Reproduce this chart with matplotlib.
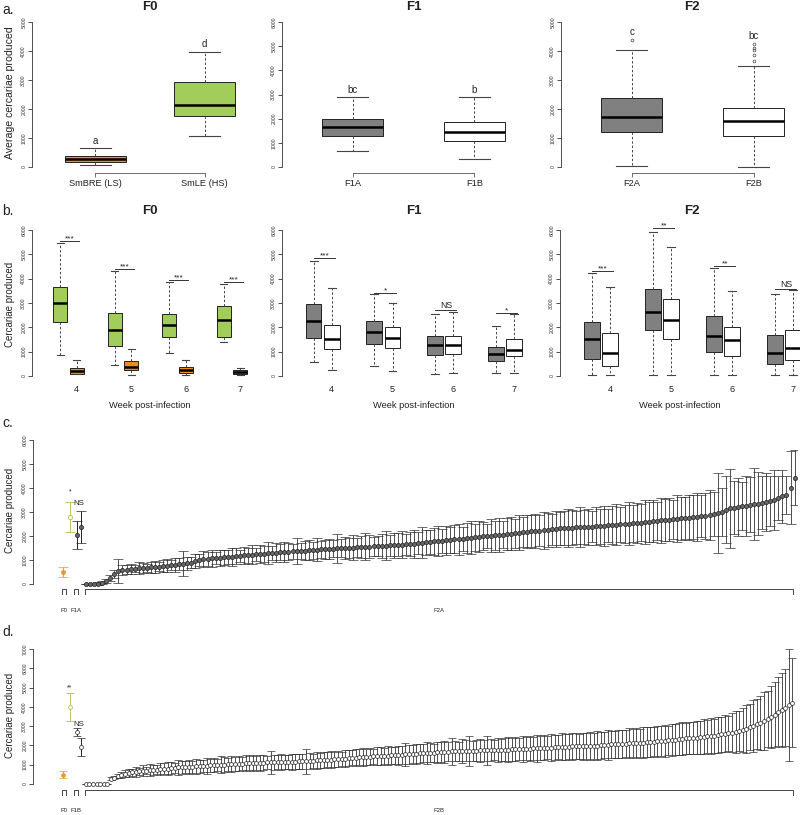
import numpy as np
import matplotlib
matplotlib.use("Agg")
import matplotlib.pyplot as plt
from matplotlib import transforms

plt.rcParams['font.family'] = ['Liberation Sans', 'DejaVu Sans']

# ---------------- data ----------------
# panel a: average cercariae per parasite group (box stats)
a_f0_names = ['SmBRE (LS)', 'SmLE (HS)']
a_f0_lo = [80, 1080]
a_f0_q1 = [170, 1760]
a_f0_med = [270, 2130]
a_f0_q3 = [380, 2920]
a_f0_hi = [650, 3980]
a_f0_letters = ['a', 'd']

a_f1_names = ['F1A', 'F1B']
a_f1_lo = [650, 330]
a_f1_q1 = [1300, 1080]
a_f1_med = [1650, 1450]
a_f1_q3 = [1970, 1870]
a_f1_hi = [2900, 2900]
a_f1_letters = ['bc', 'b']

a_f2_names = ['F2A', 'F2B']
a_f2_lo = [20, 10]
a_f2_q1 = [1190, 1060]
a_f2_med = [1730, 1570]
a_f2_q3 = [2380, 2030]
a_f2_hi = [4020, 3480]
a_f2_out = [[4380], [3650, 3850, 4050, 4120, 4250]]
a_f2_letters = ['c', 'bc']

# panel b: per week
weeks = [4, 5, 6, 7]
b_f0_hs = dict(lo=[850, 440, 960, 1390], q1=[2230, 1240, 1600, 1620], med=[3020, 1900, 2100, 2300],
               q3=[3670, 2600, 2550, 2880], hi=[5450, 4310, 3880, 3770])
b_f0_ls = dict(lo=[70, 55, 40, 50], q1=[100, 260, 130, 100], med=[200, 370, 250, 170],
               q3=[340, 630, 380, 230], hi=[650, 1110, 650, 330])
b_f0_sig = ['***', '***', '***', '***']
b_f0_sig_y = [5560, 4380, 3950, 3870]

b_f1_a = dict(lo=[577, 430, 100, 120], q1=[1550, 1330, 870, 600], med=[2260, 1810, 1290, 890],
              q3=[2940, 2240, 1650, 1200], hi=[4740, 3350, 2540, 2070])
b_f1_b = dict(lo=[260, 190, 120, 120], q1=[1100, 1170, 920, 810], med=[1540, 1570, 1290, 1070],
              q3=[2110, 2000, 1650, 1500], hi=[3620, 2990, 2650, 2550])
b_f1_sig = ['***', '*', 'NS', '*']
b_f1_sig_y = [4870, 3430, 2700, 2600]

b_f2_a = dict(lo=[30, 30, 30, 30], q1=[715, 1880, 990, 510], med=[1500, 2610, 1650, 960],
              q3=[2200, 3590, 2450, 1700], hi=[4220, 5930, 4420, 3370])
b_f2_b = dict(lo=[30, 30, 30, 30], q1=[400, 1500, 820, 650], med=[930, 2290, 1460, 1150],
              q3=[1770, 3170, 2020, 1880], hi=[3640, 5290, 3490, 3530])
b_f2_sig = ['***', '**', '**', 'NS']
b_f2_sig_y = [4330, 6100, 4520, 3570]

# panel c: mean +/- error per individual
c_f0_mean = [510, 2800]
c_f0_err = [210, 625]
c_f1a_mean = [2040, 2360]
c_f1a_err = [600, 670]
c_f2a_mean = [
    0, 0, 0, 20, 50, 110, 250, 420, 540, 580,
    600, 620, 640, 650, 660, 680, 690, 700, 720, 740,
    760, 780, 800, 820, 840, 860, 880, 960, 1000, 1030,
    1050, 1070, 1080, 1100, 1110, 1130, 1140, 1160, 1170, 1190,
    1200, 1220, 1230, 1250, 1260, 1280, 1290, 1310, 1320, 1340,
    1350, 1360, 1370, 1380, 1390, 1400, 1410, 1420, 1440, 1450,
    1460, 1470, 1480, 1490, 1500, 1510, 1520, 1530, 1540, 1550,
    1560, 1570, 1580, 1590, 1600, 1610, 1620, 1630, 1640, 1650,
    1660, 1680, 1700, 1720, 1740, 1760, 1780, 1790, 1800, 1820,
    1840, 1860, 1870, 1890, 1910, 1930, 1950, 1970, 1990, 2000,
    2020, 2030, 2040, 2060, 2080, 2100, 2120, 2140, 2160, 2180,
    2200, 2210, 2220, 2240, 2260, 2280, 2300, 2320, 2330, 2340,
    2350, 2360, 2370, 2370, 2380, 2390, 2400, 2410, 2420, 2440,
    2460, 2470, 2490, 2500, 2520, 2530, 2540, 2560, 2570, 2590,
    2610, 2630, 2650, 2670, 2680, 2700, 2710, 2730, 2750, 2760,
    2780, 2800, 2820, 2850, 2880, 2920, 2960, 3020, 3090, 3150,
    3180, 3210, 3240, 3270, 3300, 3320, 3350, 3380, 3420, 3460,
    3520, 3580, 3650, 3720, 4010, 4430]
c_f2a_err = [
    20, 30, 40, 50, 60, 80, 120, 150, 500, 200,
    180, 220, 160, 250, 200, 170, 230, 260, 190, 240,
    280, 210, 300, 250, 520, 270, 230, 310, 260, 340,
    290, 360, 250, 330, 300, 280, 380, 320, 260, 350,
    310, 400, 290, 360, 330, 450, 300, 380, 340, 410,
    360, 300, 550, 330, 390, 420, 350, 480, 370, 400,
    430, 360, 600, 380, 450, 410, 520, 390, 440, 560,
    470, 400, 430, 500, 600, 450, 520, 480, 560, 430,
    500, 580, 470, 640, 520, 490, 560, 620, 510, 600,
    540, 580, 650, 500, 620, 700, 560, 640, 590, 520,
    680, 610, 720, 560, 650, 700, 600, 740, 620, 680,
    660, 720, 640, 780, 700, 650, 760, 690, 720, 800,
    740, 680, 820, 700, 760, 650, 790, 730, 850, 700,
    780, 860, 720, 800, 900, 760, 840, 780, 920, 820,
    880, 800, 950, 860, 900, 820, 980, 900, 860, 940,
    920, 1000, 880, 960, 1050, 900, 1680, 1000, 1400, 1650,
    1100, 1200, 1000, 1250, 1150, 1500, 1300, 1100, 1200, 1050,
    1250, 900, 1100, 800, 1530, 1150]

# panel d
d_f0_mean = [480, 3980]
d_f0_err = [190, 735]
d_f1b_mean = [2690, 1930]
d_f1b_err = [215, 475]
d_f2b_mean = [
    0, 0, 0, 0, 0, 0, 0, 280, 330, 420,
    480, 530, 560, 600, 620, 650, 680, 700, 720, 730,
    750, 770, 790, 800, 820, 840, 860, 870, 880, 890,
    900, 910, 920, 930, 950, 960, 980, 990, 1000, 1010,
    1020, 1030, 1040, 1050, 1060, 1070, 1080, 1090, 1100, 1110,
    1110, 1120, 1120, 1130, 1130, 1140, 1140, 1150, 1150, 1160,
    1170, 1180, 1190, 1200, 1210, 1220, 1230, 1240, 1260, 1270,
    1280, 1290, 1300, 1320, 1340, 1350, 1370, 1380, 1400, 1410,
    1420, 1430, 1440, 1450, 1460, 1470, 1480, 1490, 1500, 1510,
    1530, 1540, 1560, 1570, 1590, 1600, 1610, 1620, 1630, 1650,
    1660, 1670, 1680, 1690, 1700, 1700, 1710, 1720, 1720, 1730,
    1730, 1740, 1740, 1750, 1750, 1760, 1760, 1770, 1780, 1780,
    1790, 1800, 1810, 1820, 1830, 1840, 1850, 1860, 1870, 1880,
    1880, 1890, 1900, 1910, 1920, 1930, 1940, 1950, 1960, 1960,
    1970, 1970, 1980, 1980, 1990, 2000, 2020, 2030, 2050, 2070,
    2080, 2090, 2100, 2110, 2120, 2130, 2140, 2150, 2170, 2190,
    2200, 2210, 2230, 2240, 2260, 2280, 2300, 2320, 2340, 2360,
    2370, 2390, 2410, 2430, 2450, 2470, 2490, 2510, 2540, 2570,
    2600, 2630, 2670, 2710, 2760, 2810, 2870, 2940, 3020, 3100,
    3180, 3280, 3380, 3480, 3600, 3750, 3830, 3950, 4090, 4220]
d_f2b_err = [
    0, 0, 0, 0, 0, 0, 0, 60, 80, 100,
    150, 180, 220, 160, 250, 200, 280, 190, 300, 260,
    240, 320, 280, 350, 300, 270, 380, 330, 290, 360,
    310, 400, 340, 300, 420, 350, 380, 330, 450, 370,
    340, 400, 360, 380, 320, 420, 360, 390, 350, 410,
    370, 340, 600, 390, 360, 420, 380, 350, 400, 370,
    410, 380, 650, 400, 360, 440, 390, 420, 380, 450,
    400, 430, 370, 460, 410, 390, 450, 420, 470, 430,
    440, 410, 480, 450, 420, 500, 460, 430, 490, 470,
    620, 480, 450, 520, 490, 460, 580, 500, 470, 540,
    510, 560, 480, 700, 530, 500, 620, 550, 780, 520,
    560, 600, 540, 760, 580, 530, 620, 560, 600, 640,
    580, 620, 560, 660, 600, 640, 580, 700, 620, 660,
    600, 680, 640, 620, 700, 660, 640, 720, 680, 650,
    700, 680, 720, 660, 740, 700, 680, 760, 720, 700,
    740, 720, 700, 780, 740, 760, 720, 800, 760, 780,
    760, 800, 780, 820, 760, 840, 800, 820, 860, 800,
    840, 820, 880, 860, 900, 840, 920, 880, 940, 900,
    960, 920, 1000, 1100, 1050, 1150, 1250, 1200, 1350, 1300,
    1400, 1500, 1450, 1600, 1700, 1800, 1900, 2000, 2900, 2300]

# ---------------- style ----------------
GREEN = '#a2cd5a'
ORANGE = '#f08c1e'
GREY = '#808080'
LS_COL = '#e49a35'
HS_COL = '#bfc466'
TXT = '#222222'

W, H = 800, 815
fig = plt.figure(figsize=(8, 8.15), dpi=100)


def px_axes(x0, y0, x1, y1):
    return fig.add_axes([x0 / W, 1 - y1 / H, (x1 - x0) / W, (y1 - y0) / H])


def r_yaxis(ax, ticks):
    for s in ['top', 'right']:
        ax.spines[s].set_visible(False)
    ax.spines['left'].set_bounds(ticks[0], ticks[-1])
    ax.spines['left'].set_linewidth(0.6)
    ax.spines['left'].set_color('#333333')
    ax.set_yticks(ticks)
    ax.set_yticklabels([str(t) for t in ticks], rotation=90, va='center', fontsize=3.7, color='#333333')
    ax.tick_params(axis='y', length=2.6, width=0.6, pad=1.5, color='#333333')
    ax.patch.set_visible(False)


def boxes(ax, pos, lo, q1, med, q3, hi, color, width, out=None):
    stats = []
    for i in range(len(pos)):
        stats.append(dict(whislo=lo[i], q1=q1[i], med=med[i], q3=q3[i], whishi=hi[i],
                          fliers=out[i] if out else []))
    ax.bxp(stats, positions=pos, widths=width, patch_artist=True, manage_ticks=False,
           capwidths=width * 0.5,
           boxprops=dict(facecolor=color, edgecolor='#222222', linewidth=0.7),
           medianprops=dict(color='black', linewidth=1.8, solid_capstyle='butt'),
           whiskerprops=dict(color='#444444', linewidth=0.7, linestyle=(0, (2.5, 2))),
           capprops=dict(color='#444444', linewidth=0.8),
           flierprops=dict(marker='o', markersize=2, markerfacecolor='none',
                           markeredgecolor='#444444', markeredgewidth=0.5))


def title(xc, yc, s):
    fig.text(xc / W, 1 - yc / H, s, ha='center', va='center', fontsize=9.5, fontweight='bold', color=TXT)


def label(x, yc, s):
    fig.text(x / W, 1 - yc / H, s, ha='left', va='center', fontsize=10, color=TXT)


def ylab(xc, yc, s, size=7):
    fig.text(xc / W, 1 - yc / H, s, ha='center', va='center', rotation=90, fontsize=size, color=TXT)


# ---------------- panel a ----------------
label(2, 10, 'a.')
ylab(10, 93, 'Average cercariae produced', 7.6)
a_panels = [
    ((32, 268), 5069, -207, [0, 1000, 2000, 3000, 4000, 5000], (0.42, 2.58), 0.56, GREEN, ORANGE,
     a_f0_names, a_f0_lo, a_f0_q1, a_f0_med, a_f0_q3, a_f0_hi, None, a_f0_letters, 150, 'F0'),
    ((282, 545), 6083, -248, [0, 1000, 2000, 3000, 4000, 5000, 6000], (0.42, 2.58), 0.5, GREY, 'white',
     a_f1_names, a_f1_lo, a_f1_q1, a_f1_med, a_f1_q3, a_f1_hi, None, a_f1_letters, 414, 'F1'),
    ((561, 800), 5069, -207, [0, 1000, 2000, 3000, 4000, 5000], (0.42, 2.38), 0.5, GREY, 'white',
     a_f2_names, a_f2_lo, a_f2_q1, a_f2_med, a_f2_q3, a_f2_hi, a_f2_out, a_f2_letters, 692, 'F2'),
]
for (xr, ytop, ybot, yt, xl, bw, c1, c2, names, lo, q1, med, q3, hi, out, letters, tx, tt) in a_panels:
    ax = px_axes(xr[0], 20, xr[1], 173)
    ax.set_xlim(*xl)
    ax.set_ylim(ybot, ytop)
    cols = [c2, c1] if tt == 'F0' else [c1, c2]
    for i in range(2):
        boxes(ax, [i + 1], [lo[i]], [q1[i]], [med[i]], [q3[i]], [hi[i]], cols[i], bw,
              [out[i]] if out else None)
    r_yaxis(ax, yt)
    ax.spines['bottom'].set_bounds(1, 2)
    ax.spines['bottom'].set_linewidth(0.6)
    ax.spines['bottom'].set_color('#555555')
    ax.set_xticks([1, 2])
    ax.set_xticklabels(names, fontsize=6.7, color=TXT)
    ax.tick_params(axis='x', length=2.8, width=0.6, pad=1.5, color='#555555')
    top = [max([hi[i]] + (out[i] if out else [])) for i in range(2)]
    for i in range(2):
        ax.text(i + 1, top[i] + 90, letters[i], ha='center', va='bottom', fontsize=7, color=TXT)
    title(tx, 7, tt)

# ---------------- panel b ----------------
label(2, 211, 'b.')
ylab(10, 304, 'Cercariae produced')
b_panels = [
    ((32, 268), (3.33, 7.66), b_f0_hs, b_f0_ls, GREEN, ORANGE, b_f0_sig, b_f0_sig_y, 150, 'F0'),
    ((282, 545), (3.33, 7.66), b_f1_a, b_f1_b, GREY, 'white', b_f1_sig, b_f1_sig_y, 414, 'F1'),
    ((560, 800), (3.33, 7.26), b_f2_a, b_f2_b, GREY, 'white', b_f2_sig, b_f2_sig_y, 692, 'F2'),
]
wk = np.array(weeks, dtype=float)
for (xr, xl, s1, s2, c1, c2, sig, sig_y, tx, tt) in b_panels:
    ax = px_axes(xr[0], 226, xr[1], 382)
    ax.set_xlim(*xl)
    ax.set_ylim(-247, 6165)
    p1 = wk - 0.15
    p2 = wk + 0.15
    boxes(ax, p1, s1['lo'], s1['q1'], s1['med'], s1['q3'], s1['hi'], c1, 0.26)
    boxes(ax, p2, s2['lo'], s2['q1'], s2['med'], s2['q3'], s2['hi'], c2, 0.26)
    r_yaxis(ax, [0, 1000, 2000, 3000, 4000, 5000, 6000])
    ax.spines['bottom'].set_visible(False)
    ax.set_xticks(wk + 0.15)
    ax.set_xticklabels([str(w) for w in weeks], fontsize=6.5, color=TXT)
    ax.tick_params(axis='x', length=0, pad=2)
    ax.set_xlabel('Week post-infection', fontsize=6.7, color=TXT, labelpad=5)
    for i in range(4):
        ax.plot([p1[i], p2[i] + 0.05], [sig_y[i], sig_y[i]], color='#333333', lw=0.7, clip_on=False)
        off = 20 if sig[i] == 'NS' else -60
        ax.text((p1[i] + p2[i]) / 2 + 0.03, sig_y[i] + off, sig[i], ha='center', va='bottom',
                fontsize=6.3 if sig[i] == 'NS' else 6, color=TXT, clip_on=False)
    title(tx, 211, tt)


# ---------------- panels c and d ----------------
def bracket(ax, x0, x1, text, h_px, xc=None):
    tr = transforms.blended_transform_factory(ax.transData, ax.transAxes)
    t = 4.5 / h_px
    ax.plot([x0, x0, x1, x1], [-t, 0, 0, -t], transform=tr, color='#444444', lw=0.7, clip_on=False)
    ax.text(xc if xc is not None else (x0 + x1) / 2, -21 / h_px, text, transform=tr, ha='center',
            va='center', fontsize=4.3, color=TXT)


def indiv_panel(y0, y1, ylim, yt, f0m, f0e, f0pos, f1m, f1e, f1pos, f2m, f2e, f2face, ms, cap,
                star, star_y, ns_y, names, br):
    ax = px_axes(33, y0, 797, y1)
    n = len(f2m)
    x2 = np.arange(1, n + 1)
    ax.errorbar(x2, f2m, yerr=f2e, fmt='o', ms=ms, mfc=f2face, mec='#222222', mew=0.5,
                ecolor='#333333', elinewidth=0.6, capsize=cap, capthick=0.6)
    ax.errorbar([f0pos[0]], [f0m[0]], yerr=[f0e[0]], fmt='o', ms=ms, mfc=LS_COL, mec=LS_COL, mew=0.5,
                ecolor=LS_COL, elinewidth=0.7, capsize=cap, capthick=0.7)
    ax.errorbar([f0pos[1]], [f0m[1]], yerr=[f0e[1]], fmt='o', ms=ms, mfc='white', mec=HS_COL, mew=0.7,
                ecolor=HS_COL, elinewidth=0.7, capsize=cap, capthick=0.7)
    ax.errorbar(f1pos, f1m, yerr=f1e, fmt='o', ms=ms, mfc=f2face, mec='#222222', mew=0.5,
                ecolor='#222222', elinewidth=0.7, capsize=cap, capthick=0.7)
    ax.text(f0pos[1], star_y, star, ha='center', va='center', fontsize=5, color=TXT)
    ax.text(np.mean(f1pos), ns_y, 'NS', ha='center', va='center', fontsize=5.7, color=TXT)
    ax.set_ylim(*ylim)
    ax.set_xlim(br[3], br[4])
    r_yaxis(ax, yt)
    ax.spines['bottom'].set_visible(False)
    ax.set_xticks([])
    h = y1 - y0
    bracket(ax, br[0][0], br[0][1], names[0], h)
    bracket(ax, br[1][0], br[1][1], names[1], h)
    bracket(ax, br[2][0], br[2][1], names[2], h)
    return ax


label(2, 423, 'c.')
ylab(10, 510, 'Cercariae produced')
indiv_panel(430, 589, (-208, 6417), [0, 1000, 2000, 3000, 4000, 5000, 6000],
            c_f0_mean, c_f0_err, [-4.7, -2.95], c_f1a_mean, c_f1a_err, [-1.22, -0.23],
            c_f2a_mean, c_f2a_err, '#666666', 3.0, 3.6, '*', 3820, 3360, ['F0', 'F1A', 'F2A'],
            [(-4.9, -3.9), (-2.0, -1.0), (0.75, 175.6), -12.1, 176.6])

label(2, 632, 'd.')
ylab(10, 715, 'Cercariae produced')
indiv_panel(640, 790, (-311, 7467), [0, 1000, 2000, 3000, 4000, 5000, 6000, 7000],
            d_f0_mean, d_f0_err, [-5.48, -3.5], d_f1b_mean, d_f1b_err, [-1.54, -0.41],
            d_f2b_mean, d_f2b_err, 'white', 2.8, 3.2, '**', 5000, 3100, ['F0', 'F1B', 'F2B'],
            [(-5.8, -4.6), (-2.4, -1.25), (0.72, 200.2), -13.9, 201.3])

fig.savefig('out.png', dpi=100, facecolor='white')
